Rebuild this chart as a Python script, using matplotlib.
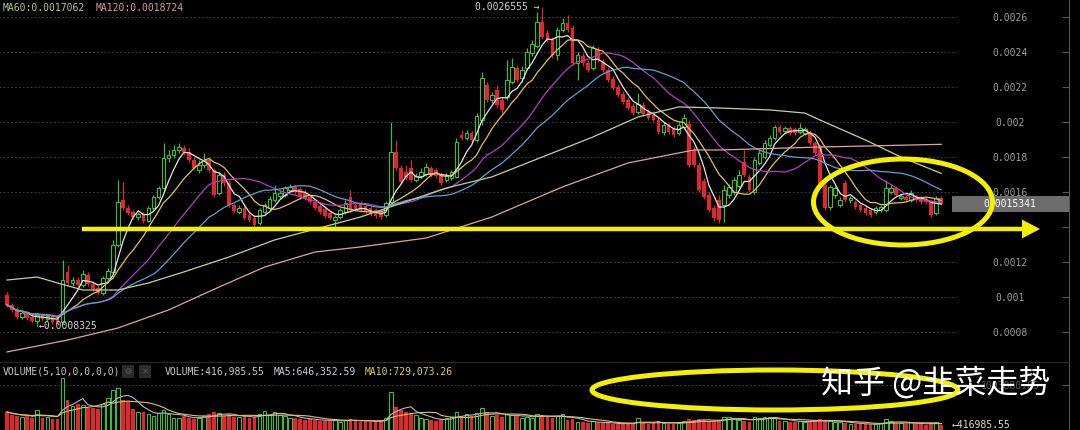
import numpy as np
import pandas as pd
import matplotlib
matplotlib.use('Agg')
import matplotlib.pyplot as plt
from matplotlib.patches import Ellipse, FancyArrow, Rectangle
from matplotlib.ticker import FixedLocator, FuncFormatter

plt.rcParams['font.family'] = ['DejaVu Sans Mono']

# daily candles, prices in units of 1e-6
open_ = [1011, 954, 931, 886, 909, 886, 863, 897, 874, 891, 869,
         857, 1143, 1080, 1097, 1069, 1126, 1074, 1051, 1023, 1109, 1143, 1297,
         1554, 1509, 1486, 1457, 1474, 1434, 1509, 1571, 1623,
         1794, 1811, 1840, 1851, 1829, 1783, 1726, 1754, 1783,
         1726, 1594, 1697, 1651, 1526, 1486, 1509, 1469, 1451,
         1423, 1486, 1509, 1554, 1577, 1583, 1611, 1629, 1617, 1594,
         1571, 1543, 1520, 1503, 1480, 1440, 1457, 1486, 1571,
         1526, 1531, 1520, 1509, 1497, 1486, 1469,
         1543, 1829, 1737, 1714, 1737, 1669, 1691, 1703, 1737, 1726, 1703, 1669, 1680, 1686,
         1926, 1909, 1937, 1897,
         2011, 2211, 2126, 2183, 2126, 2143, 2229, 2309, 2251, 2309, 2394, 2434,
         2571, 2509, 2469, 2383, 2526, 2566,
         2537, 2337, 2377, 2337, 2309, 2411, 2343, 2297,
         2246, 2200, 2160, 2126, 2091, 2057, 2097, 2057, 2040,
         2011, 1943, 1977, 1960, 1937, 1971,
         1989, 1840, 1754, 1663, 1583, 1509, 1554,
         1526, 1583, 1600, 1634, 1771, 1686,
         1600, 1766, 1800, 1869, 1909,
         1971, 1949, 1966, 1960, 1943, 1937, 1943, 1880,
         1857, 1640, 1514, 1583, 1526, 1651, 1554,
         1543, 1526, 1509, 1497, 1486, 1497,
         1497, 1600, 1623, 1566, 1571, 1554,
         1571, 1566, 1560, 1543, 1480, 1566]
close = [954, 926, 886, 909, 880, 863, 897, 874, 891, 857, 846,
         1097, 1080, 1097, 1069, 1131, 1074, 1046, 1023, 1109, 1149, 1297, 1543,
         1509, 1480, 1457, 1474, 1434, 1509, 1571, 1623, 1794,
         1811, 1840, 1857, 1829, 1783, 1737, 1754, 1783, 1726,
         1583, 1697, 1651, 1526, 1491, 1509, 1451, 1440, 1411,
         1497, 1526, 1560, 1594, 1594, 1623, 1629, 1600, 1571, 1566,
         1543, 1509, 1486, 1463, 1451, 1457, 1497, 1537, 1497,
         1503, 1497, 1486, 1474, 1463, 1457, 1537,
         1829, 1737, 1657, 1680, 1669, 1691, 1714, 1743, 1697, 1691, 1651, 1697, 1714, 1886,
         1909, 1937, 1897, 2034,
         2251, 2126, 2154, 2097, 2069, 2240, 2314, 2240, 2297, 2400, 2446, 2571,
         2486, 2469, 2383, 2526, 2566, 2526,
         2337, 2383, 2337, 2297, 2423, 2354, 2297, 2240,
         2194, 2154, 2114, 2080, 2051, 2103, 2046, 2023, 2011,
         1943, 1983, 1943, 1926, 1983, 2023,
         1754, 1754, 1611, 1571, 1497, 1451, 1440,
         1611, 1629, 1669, 1697, 1697, 1611,
         1783, 1823, 1880, 1909, 1971,
         1943, 1966, 1937, 1937, 1966, 1960, 1880, 1823,
         1640, 1509, 1629, 1623, 1554, 1554, 1566,
         1514, 1497, 1480, 1469, 1509, 1514,
         1623, 1623, 1583, 1577, 1554, 1594,
         1554, 1543, 1543, 1469, 1566, 1534.1]
high = [1029, 966, 943, 920, 920, 897, 909, 909, 903, 903, 880,
        1211, 1183, 1114, 1114, 1154, 1143, 1091, 1069, 1120, 1166, 1326, 1669,
        1657, 1526, 1497, 1486, 1486, 1520, 1583, 1634, 1880,
        1840, 1869, 1880, 1869, 1851, 1800, 1783, 1823, 1800,
        1737, 1714, 1714, 1669, 1537, 1526, 1520, 1486, 1469,
        1509, 1537, 1577, 1640, 1611, 1634, 1646, 1640, 1629, 1611,
        1583, 1554, 1531, 1514, 1491, 1469, 1509, 1554, 1611,
        1537, 1549, 1531, 1520, 1509, 1497, 1549,
        2000, 1897, 1754, 1754, 1783, 1709, 1737, 1766, 1749, 1737, 1714, 1709, 1726, 1909,
        1954, 1954, 1949, 2051,
        2286, 2229, 2171, 2211, 2143, 2354, 2366, 2326, 2320, 2423, 2469, 2629,
        2655.5, 2526, 2486, 2543, 2594, 2611,
        2554, 2400, 2394, 2354, 2440, 2429, 2360, 2314,
        2263, 2217, 2177, 2143, 2109, 2166, 2114, 2074, 2063,
        2029, 2000, 1994, 1977, 2000, 2046,
        2011, 1857, 1771, 1680, 1600, 1526, 1583,
        1640, 1646, 1686, 1726, 1840, 1703,
        1800, 1840, 1897, 1926, 1983,
        1983, 1977, 1977, 1971, 1994, 1971, 1954, 1891,
        1869, 1651, 1640, 1634, 1571, 1669, 1577,
        1554, 1537, 1520, 1509, 1520, 1526,
        1669, 1640, 1634, 1589, 1583, 1611,
        1583, 1577, 1571, 1554, 1577, 1577]
low = [943, 914, 874, 874, 869, 851, 832.5, 863, 863, 846, 840,
       846, 1069, 1063, 1057, 1057, 1063, 1034, 1011, 1011, 1097, 1131, 1286,
       1497, 1469, 1446, 1440, 1423, 1429, 1497, 1560, 1611,
       1771, 1794, 1823, 1811, 1771, 1726, 1709, 1737, 1714,
       1571, 1583, 1634, 1514, 1480, 1474, 1440, 1429, 1400,
       1411, 1474, 1497, 1543, 1566, 1571, 1600, 1589, 1560, 1554,
       1531, 1497, 1474, 1451, 1440, 1394, 1446, 1474, 1486,
       1491, 1486, 1474, 1463, 1451, 1446, 1457,
       1531, 1726, 1646, 1669, 1657, 1657, 1680, 1691, 1686, 1680, 1640, 1657, 1669, 1680,
       1897, 1897, 1886, 1886,
       1983, 2114, 2109, 2080, 2051, 2126, 2217, 2229, 2229, 2297, 2377, 2423,
       2474, 2457, 2366, 2354, 2514, 2514,
       2326, 2240, 2320, 2286, 2297, 2343, 2286, 2229,
       2183, 2143, 2103, 2069, 2040, 2046, 2034, 2011, 2000,
       1931, 1926, 1931, 1914, 1926, 1960,
       1743, 1743, 1600, 1560, 1486, 1434, 1423,
       1429, 1566, 1583, 1623, 1686, 1600,
       1589, 1754, 1789, 1857, 1897,
       1931, 1937, 1926, 1926, 1931, 1926, 1869, 1811,
       1629, 1497, 1497, 1566, 1514, 1543, 1537,
       1503, 1486, 1469, 1457, 1474, 1486,
       1486, 1589, 1571, 1554, 1543, 1543,
       1543, 1531, 1531, 1457, 1469, 1526]
# traded volume, thousands
volume_k = [640, 590, 570, 550, 570, 540, 670, 540, 550, 520, 520,
            1210, 840, 740, 770, 755, 705, 705, 690, 770, 874, 1010, 1040,
            840, 820, 690, 640, 640, 600, 570, 620, 670,
            600, 540, 540, 570, 540, 520, 540, 570, 600,
            640, 620, 570, 600, 550, 550, 570, 540, 550,
            600, 655, 590, 640, 590, 570, 540, 540, 520, 500,
            520, 500, 485, 485, 500, 500, 470, 500, 520,
            485, 470, 485, 470, 485, 500, 540,
            975, 720, 670, 640, 620, 590, 540, 520, 500, 485, 520, 540, 550, 640,
            570, 600, 570, 620,
            705, 640, 570, 590, 550, 600, 590, 570, 540, 550, 540, 600,
            590, 550, 540, 570, 600, 500,
            520, 470, 470, 450, 485, 450, 450, 450,
            435, 435, 435, 450, 450, 540, 450, 435, 450,
            485, 450, 435, 435, 450, 485,
            520, 500, 520, 500, 485, 485, 500,
            550, 550, 540, 500, 485, 470,
            550, 540, 550, 550, 540,
            485, 485, 470, 470, 485, 470, 485, 485,
            520, 500, 485, 470, 470, 450, 435,
            435, 435, 435, 417, 435, 450,
            520, 485, 450, 450, 435, 470,
            435, 435, 417, 450, 470, 416.98555]

# long averages as shown on the chart (index, value 1e-6)
ma60_idx = [0, 6, 10, 15, 22, 28, 35, 44, 53, 70, 87, 96, 106, 116, 125, 133,
            141, 151, 158, 161, 170, 177, 185]
ma60_val = [1097, 1114, 1080, 1040, 1040, 1080, 1143, 1229, 1326, 1457, 1623, 1686,
            1800, 1914, 2029, 2086, 2080, 2069, 2051, 2011, 1897, 1800, 1706.2]
ma120_idx = [0, 12, 22, 32, 42, 51, 61, 70, 83, 96, 110, 123, 136, 141, 161, 185]
ma120_val = [686, 754, 823, 926, 1057, 1171, 1257, 1286, 1337, 1457, 1629, 1766,
             1840, 1840, 1857, 1872.4]

BG = '#000000'
UP = '#3dbb3d'
DOWN = '#e3262b'
YELLOW = '#f5f000'
GRID = '#3a3a3a'
AXIS = '#555555'
ma_colors = {5: '#e6e6e6', 10: '#e2c35a', 20: '#b43cc4', 30: '#5e9fd6'}
MA60_C = '#bfd39a'
MA120_C = '#e3a2a2'

o = np.array(open_) / 1e6
c = np.array(close) / 1e6
h = np.array(high) / 1e6
l = np.array(low) / 1e6
v = np.array(volume_k) * 1000
n = len(c)
idx = np.arange(n)
up = c >= o

W, H = 1080, 430
fig = plt.figure(figsize=(W / 100, H / 100), dpi=100, facecolor=BG)
ax = fig.add_axes([0, 68 / H, 1069 / W, 362 / H], facecolor=BG)
vol = fig.add_axes([0, 0, 1069 / W, 68 / H], facecolor=BG, sharex=ax)

xmax = (1069 - 7) / 5.05
ax.set_xlim(-7 / 5.05, xmax)
ax.set_ylim(628.5e-6, 2697.1e-6)
grid_end = (957 - 7) / 5.05

# price grid
ticks = np.arange(4, 14) * 0.0002
ax.hlines(ticks, -2, grid_end, colors=GRID, lw=0.7, linestyles=(0, (2, 2)), zorder=1)

# candles
ax.vlines(idx[up], l[up], h[up], color=UP, lw=0.9, zorder=3)
ax.vlines(idx[~up], l[~up], h[~up], color=DOWN, lw=0.9, zorder=3)
body = np.maximum(np.abs(c - o), 2e-6)
bottom = np.minimum(o, c)
ax.bar(idx[up], body[up], bottom=bottom[up], width=0.72, facecolor=BG,
       edgecolor=UP, lw=0.8, zorder=4)
ax.bar(idx[~up], body[~up], bottom=bottom[~up], width=0.72, color=DOWN, lw=0, zorder=4)

# moving averages
cs = pd.Series(c)
for w, col in ma_colors.items():
    ax.plot(idx, cs.rolling(w, min_periods=1).mean(), color=col, lw=0.9, zorder=5)
ax.plot(ma60_idx, np.array(ma60_val) / 1e6, color=MA60_C, lw=0.9, zorder=5)
ax.plot(ma120_idx, np.array(ma120_val) / 1e6, color=MA120_C, lw=0.9, zorder=5)

# high / low marks
hi_i = int(np.argmax(h))
lo_i = int(np.argmin(l))
ax.text(hi_i - 0.6, h[hi_i], '%.7f →' % h[hi_i], ha='right', va='center',
        color='#d2d2d2', fontsize=7, zorder=7)
ax.text(lo_i + 0.3, l[lo_i], '←%.7f' % l[lo_i], ha='left', va='center',
        color='#d2d2d2', fontsize=7, zorder=7)

# last price tag
ppx = 5.714e-6
ax.add_patch(Rectangle((187.1, c[-1] - 8 * ppx), xmax - 187.1, 16 * ppx,
                       facecolor='#6c6c6c', edgecolor='none', zorder=6, clip_on=False))
ax.text(198.6, c[-1], '%.7f' % c[-1], ha='center', va='center', color='white',
        fontsize=7, zorder=7)

for a in (ax, vol):
    for s in ('top', 'left', 'bottom'):
        a.spines[s].set_visible(False)
    a.spines['right'].set_color(AXIS)
    a.tick_params(axis='x', bottom=False, labelbottom=False)
    a.yaxis.tick_right()


def price_label(val, pos):
    # the 0.0014 label sits under the drawn support line
    if abs(val - 0.0014) < 1e-9:
        return ''
    return '%g' % val


ax.yaxis.set_major_locator(FixedLocator(ticks))
ax.yaxis.set_major_formatter(FuncFormatter(price_label))
ax.tick_params(axis='y', direction='in', length=5, width=0.8, color=AXIS,
               labelcolor='#9c9c9c', labelsize=7, pad=-42.5)
for t in ax.get_yticklabels():
    t.set_horizontalalignment('center')

# volume panel
vol.set_ylim(333e3, 1482e3)
vol.spines['top'].set_visible(True)
vol.spines['top'].set_color('#2a2a2a')
vol_tick = 1093880.85
vol.hlines([vol_tick], -2, grid_end, colors=GRID, lw=0.7, linestyles=(0, (2, 2)), zorder=1)
vol.bar(idx[up], v[up], width=0.72, facecolor=BG, edgecolor=UP, lw=0.8, zorder=3)
vol.bar(idx[~up], v[~up], width=0.72, color=DOWN, lw=0, zorder=3)
vs = pd.Series(v)
vol.plot(idx, vs.rolling(5, min_periods=1).mean(), color='#aab6d8', lw=0.8, zorder=4)
vol.plot(idx, vs.rolling(10, min_periods=1).mean(), color='#e2c35a', lw=0.8, zorder=4)
vol.yaxis.set_major_locator(FixedLocator([vol_tick]))
vol.yaxis.set_major_formatter(FuncFormatter(lambda val, pos: '%.2f' % val))
vol.tick_params(axis='y', direction='in', length=5, width=0.8, color=AXIS,
                labelcolor='#5c5c5c', labelsize=7, pad=-42.5)
for t in vol.get_yticklabels():
    t.set_horizontalalignment('center')
vol.text(187.1, v[-1], '←%.2f' % v[-1], ha='left', va='center', color='#e6e0b8',
         fontsize=7, zorder=6, clip_on=False)

# header lines and hand-drawn marks on top
ov = fig.add_axes([0, 0, 1, 1], zorder=10)
ov.set_xlim(0, W)
ov.set_ylim(H, 0)
ov.axis('off')

ov.text(3, 8, 'MA60:%.7f' % (ma60_val[-1] / 1e6), color='#b3c98a', fontsize=7, va='center')
ov.text(96, 8, 'MA120:%.7f' % (ma120_val[-1] / 1e6), color='#e09a9a', fontsize=7, va='center')

ov.text(3, 371.5, 'VOLUME(5,10,0,0,0,0)', color='#c8c8c8', fontsize=7, va='center')
for x0, sym in ((122, '⚙'), (139, '✕')):
    ov.add_patch(Rectangle((x0, 365), 12, 13, facecolor='#2c2c2c', edgecolor='none'))
    ov.text(x0 + 6, 371.5, sym, color='#5a5a5a', fontsize=6, ha='center', va='center',
            family=['DejaVu Sans'])
ov.text(165, 371.5, 'VOLUME:{:,.2f}'.format(v[-1]), color='#c8c8c8', fontsize=7, va='center')
ov.text(274, 371.5, 'MA5:646,352.59', color='#c8ccd8', fontsize=7, va='center')
ov.text(365, 371.5, 'MA10:729,073.26', color='#e0cc5a', fontsize=7, va='center')

ov.add_patch(FancyArrow(82, 229, 958, 0, width=4.5, head_width=19, head_length=18,
                        length_includes_head=True, color=YELLOW, lw=0))
ov.add_patch(Ellipse((903, 202), 179, 86, fill=False, edgecolor=YELLOW, lw=3.6))
ov.add_patch(Ellipse((775, 390), 366, 40, fill=False, edgecolor=YELLOW, lw=3.6))

ov.text(821, 383, '知乎 @韭菜走势', fontsize=23, color='white', va='center', ha='left',
        family=['Noto Sans CJK SC', 'DejaVu Sans'])

fig.savefig('out.png', dpi=100, facecolor=BG)
